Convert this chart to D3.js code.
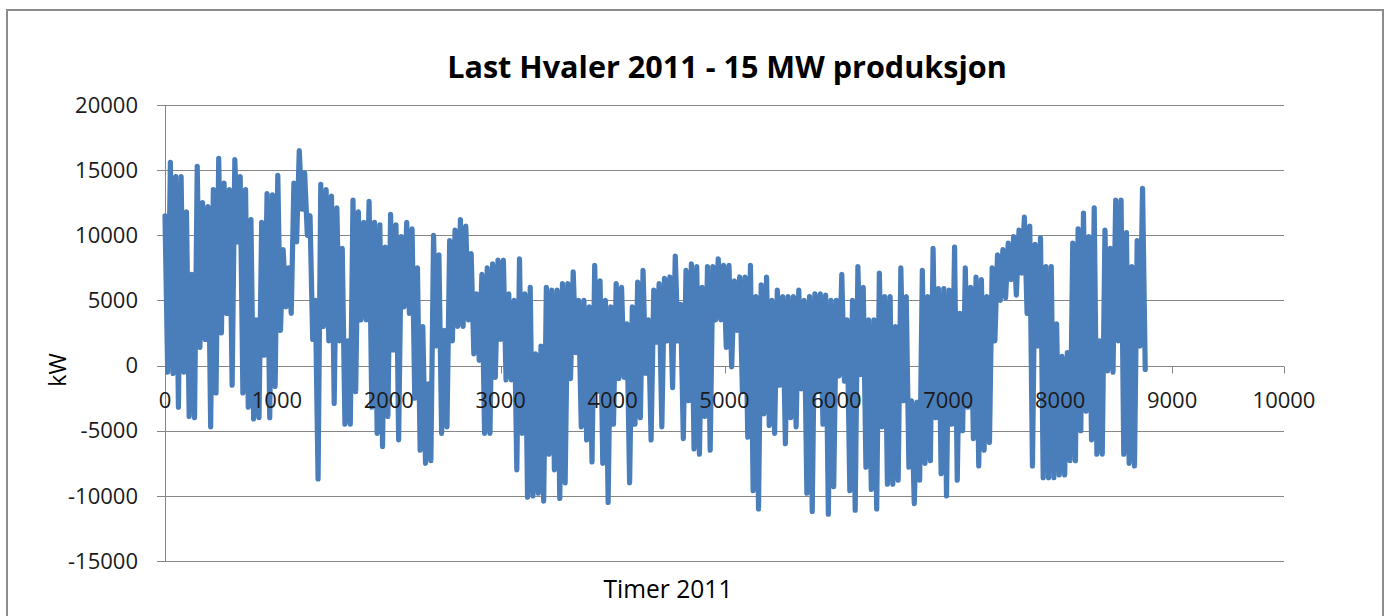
<!DOCTYPE html>
<html lang="no">
<head>
<meta charset="UTF-8">
<title>Last Hvaler 2011</title>
<script src="https://cdn.jsdelivr.net/npm/d3@7"></script>
<style>
    html, body { margin: 0; padding: 0; background: #fff; }
    svg { display: block; font-family: "Open Sans", "Liberation Sans", sans-serif; }
</style>
</head>
<body>
<svg id="chart" width="1389" height="616"></svg>
<script>
// Timeverdier lest av bildet, ett punkt per 24 timer (topp/bunn vekselvis)
const hourStep = 24;
const loadKW = [
    // 0 - 936
    11500, -500, 15600, -600, 14500, -3200, 14500, -500, 11800, -3900,
    7000, -4000, 15300, 1400, 12500, 2000, 12200, -4700, 13500, -2100,
    15900, 2500, 14000, 4000, 13500, -1500, 15800, 9500, 14500, -2100,
    13500, -3200, 11200, -4100, 3500, -4000, 11000, 800, 13200, -4000,
    // 960 - 1920
    13100, -1600, 14600, 2700, 8900, 4500, 7500, 4000, 14000, 9500,
    16500, 12000, 14800, 10000, 11500, 2000, 5000, -8700, 13900, 3000,
    13500, 1900, 13000, -2900, 12100, 1900, 9000, -4500, 1900, -4500,
    12700, -2000, 11800, 3500, 11000, 3500, 12600, -3200, 11000, -5200,
    10800,
    // 1944 - 2904
    -6200, 9100, -3900, 11600, 1200, 10800, -5700, 9900, 4500, 11000,
    4000, 10500, -2500, 7500, -6500, 3000, -7500, -1400, -7300, 10000,
    1500, 8500, -5200, 2700, -4700, 9600, 1900, 10400, 3000, 11200,
    3000, 10700, 3500, 8600, 900, 5500, 400, 7000, -5200, 7500,
    -5200,
    // 2928 - 3888
    7800, -900, 8100, 2000, 8100, -1100, 5500, -1100, 5000, -8000,
    8200, -5200, 5500, -10100, 6000, -10000, 900, -9800, 1500, -10400,
    6000, -6800, 5800, -8000, 5800, -10200, 6300, -9000, 6300, -1000,
    7200, 1000, 5000, -4700, 5000, -5700, 4500, -7400, 7700, -2000,
    6500,
    // 3912 - 4872
    -7500, 5000, -10500, 4500, -4500, 6300, -1000, 6000, -900, 3200,
    -9000, 4500, -4500, 6400, -4000, 7300, -600, 3500, -5700, 5800,
    1800, 6300, -4700, 6700, 1900, 6800, -1700, 8400, 1900, 4700,
    -5600, 7300, -2700, 7800, -6400, 7600, -6800, 6000, -3900, 7600,
    -6500,
    // 4896 - 5856
    7600, 3500, 8200, 3500, 7700, 1400, 7700, -100, 6500, 2700,
    6800, -2000, 6800, -5500, 7700, -9600, 5300, -11000, 6200, -3700,
    6800, -4600, 5000, -5200, 5800, -1500, 5300, -6000, 5300, -4000,
    5300, -4700, 5800, -1800, 5000, -9800, 5300, -11200, 5500, -2000,
    5500,
    // 5880 - 6840
    -4500, 5400, -11400, 5000, -9300, 5000, -800, 7000, -1200, 3500,
    -9600, 5000, -11100, 7600, -700, 6000, -7800, 3500, -9500, 3500,
    -11000, 7100, -4700, 5300, -9100, 5300, -9100, 3000, -8800, 7500,
    -2700, 5300, -7800, -2700, -10600, -2800, -8800, 7300, -7500, 5300,
    -7300,
    // 6864 - 7824
    9000, -4000, 5900, -8300, 5900, -10000, 5800, -4500, 9100, -8800,
    4000, -5000, 7500, -3200, 6000, -5600, 6800, -7700, 6600, -6500,
    5300, -5900, 7500, 1900, 8500, 5000, 8900, 5200, 9400, 6600,
    9900, 5400, 10400, 7100, 11400, 4000, 10700, -7700, 9300, 1500,
    9800,
    // 7848 - 8760
    -8600, 7600, -8600, 7600, -8600, 3200, -8400, 700, -8400, 1000,
    -7300, 9400, -7300, 10500, -5000, 11700, -3500, 9900, -5700, 12100,
    -6800, 1900, -6800, 10400, -400, 9000, -500, 12700, 1900, 12700,
    -6800, 10200, -7500, 7600, -7700, 9600, 1500, 13600, -300
];

const xTicks = [0, 1000, 2000, 3000, 4000, 5000, 6000, 7000, 8000, 9000, 10000];
const yTicks = [-15000, -10000, -5000, 0, 5000, 10000, 15000, 20000];

const title = "Last Hvaler 2011 - 15 MW produksjon";
const xTitle = "Timer 2011";
const yTitle = "kW";

const svg = d3.select("#chart");
const gridColor = "#868686";

const x = d3.scaleLinear().domain([0, 10000]).range([165, 1284]);
const y = d3.scaleLinear().domain([-15000, 20000]).range([561, 105]);

// ramme
svg.append("rect")
    .attr("x", 7).attr("y", 10)
    .attr("width", 1376).attr("height", 640)
    .attr("fill", "#fff")
    .attr("stroke", "#8c8c8c")
    .attr("stroke-width", 2);

// rutenett
svg.append("g")
    .selectAll("line")
    .data(yTicks)
    .join("line")
    .attr("x1", 157).attr("x2", x(10000))
    .attr("y1", d => Math.round(y(d)) + 0.5)
    .attr("y2", d => Math.round(y(d)) + 0.5)
    .attr("stroke", gridColor)
    .attr("stroke-width", 1);

// y-akse linje
svg.append("line")
    .attr("x1", 165.5).attr("x2", 165.5)
    .attr("y1", y(20000)).attr("y2", y(-15000))
    .attr("stroke", gridColor);

// x-akse ved 0 med små streker nedover
const y0 = Math.round(y(0)) + 0.5;
svg.append("g")
    .selectAll("line")
    .data(xTicks)
    .join("line")
    .attr("x1", d => Math.round(x(d)) + 0.5)
    .attr("x2", d => Math.round(x(d)) + 0.5)
    .attr("y1", y0).attr("y2", y0 + 7)
    .attr("stroke", gridColor);

// dataserien
const line = d3.line()
    .x((d, i) => x(i * hourStep))
    .y(d => y(d));

svg.append("path")
    .datum(loadKW)
    .attr("d", line)
    .attr("fill", "none")
    .attr("stroke", "#4a7ebb")
    .attr("stroke-width", 5.2)
    .attr("stroke-linejoin", "round")
    .attr("stroke-linecap", "round");

// tekst for y-aksen
svg.append("g")
    .selectAll("text")
    .data(yTicks)
    .join("text")
    .attr("x", 138)
    .attr("y", d => y(d))
    .attr("dy", "0.35em")
    .attr("text-anchor", "end")
    .attr("font-size", 22)
    .attr("fill", "#1a1a1a")
    .text(d => d);

// tekst for x-aksen (tegnes over linjen som i Excel)
svg.append("g")
    .selectAll("text")
    .data(xTicks)
    .join("text")
    .attr("x", d => x(d))
    .attr("y", 408)
    .attr("text-anchor", "middle")
    .attr("font-size", 22)
    .attr("fill", "#1a1a1a")
    .text(d => d);

// tilpasser tekstbredde til målt bredde i bildet
function fit(sel, width) {
    const w = sel.node().getComputedTextLength();
    const fs = parseFloat(sel.attr("font-size"));
    sel.attr("font-size", fs * width / w);
}

const t = svg.append("text")
    .attr("x", 727).attr("y", 78)
    .attr("text-anchor", "middle")
    .attr("font-weight", "bold")
    .attr("font-size", 28)
    .attr("fill", "#000")
    .text(title);
fit(t, 560);

const xt = svg.append("text")
    .attr("x", 668).attr("y", 598)
    .attr("text-anchor", "middle")
    .attr("font-size", 22)
    .attr("fill", "#000")
    .text(xTitle);
fit(xt, 129);

svg.append("text")
    .attr("transform", "translate(66,370) rotate(-90)")
    .attr("text-anchor", "middle")
    .attr("font-size", 23)
    .attr("fill", "#000")
    .text(yTitle);
</script>
</body>
</html>
